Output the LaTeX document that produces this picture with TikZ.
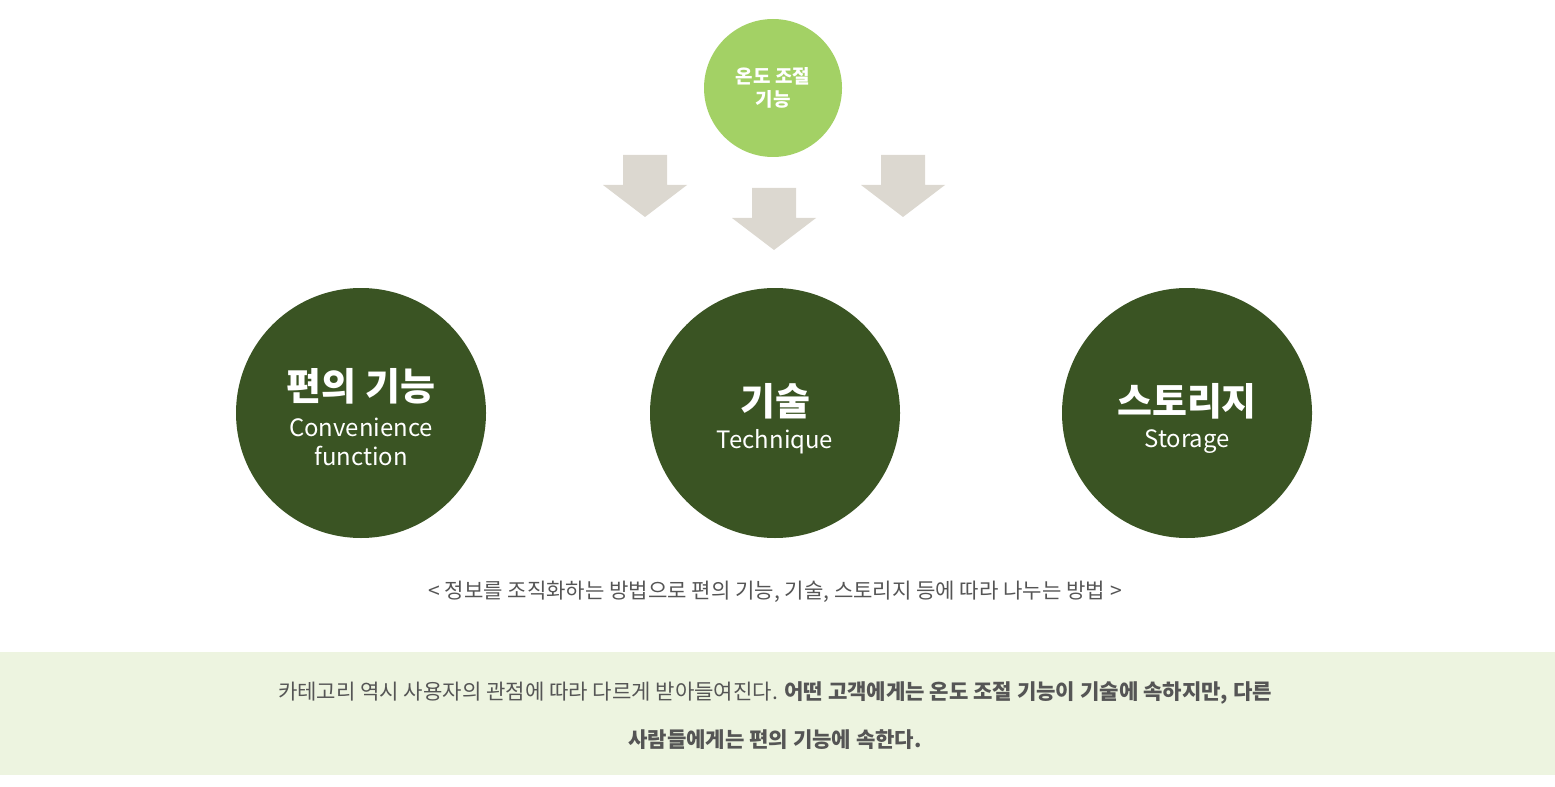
\documentclass[tikz,border=0pt]{standalone}
\usepackage{fontspec}
\setmainfont{Noto Sans CJK KR}
\usepackage{tikz}

\definecolor{darkgreen}{HTML}{3A5423}
\definecolor{lightgreen}{HTML}{A3D165}
\definecolor{arrowgrey}{HTML}{DCD8D0}
\definecolor{bandgreen}{HTML}{EDF4E0}
\definecolor{textgrey}{HTML}{555555}

\tikzset{
  bigcircle/.style={circle, fill=darkgreen, minimum size=250*0.025cm, inner sep=0pt, text=white, align=center},
  fatarrow/.pic={
    \fill[arrowgrey] (-22,-62) -- (22,-62) -- (22,-32) -- (42,-32) -- (0,0) -- (-42,-32) -- (-22,-32) -- cycle;
  }
}

\begin{document}
\begin{tikzpicture}[x=0.025cm, y=-0.025cm]
        % page and band
        \useasboundingbox (0,0) rectangle (1555,787);
        \fill[bandgreen] (0,652) rectangle (1555,775);

        % the top circle
        \node[circle, fill=lightgreen, minimum size=138*0.025cm, inner sep=0pt, text=white, align=center,
              font=\fontsize{13.5}{16}\selectfont\bfseries] (temp) at (773,88) {온도 조절\\기능};

        % the arrows
        \pic at (645,217) {fatarrow};
        \pic at (774,250) {fatarrow};
        \pic at (903,217) {fatarrow};

        % the three categories
        \node[bigcircle] (conv) at (361,413) {};
        \node[bigcircle] (tech) at (775,413) {};
        \node[bigcircle] (stor) at (1187,413) {};

        \node[text=white, font=\fontsize{27}{30}\selectfont\bfseries] (convk) at (361,386) {편의 기능};
        \node[text=white, align=center, font=\fontsize{17}{21}\selectfont] (conve) at (361,442) {Convenience\\function};
        \node[text=white, font=\fontsize{27}{30}\selectfont\bfseries] (techk) at (775,401) {기술};
        \node[text=white, font=\fontsize{17}{21}\selectfont] (teche) at (775,442) {Technique};
        \node[text=white, font=\fontsize{27}{30}\selectfont\bfseries] (stork) at (1187,401) {스토리지};
        \node[text=white, font=\fontsize{17}{21}\selectfont] (store) at (1187,442) {Storage};

        % the texts
        \node[text=textgrey, font=\fontsize{15}{18}\selectfont] (caption) at (775,592)
          {< 정보를 조직화하는 방법으로 편의 기능, 기술, 스토리지 등에 따라 나누는 방법 >};
        \node[text=textgrey, font=\fontsize{15}{18}\selectfont] (line1) at (775,693)
          {카테고리 역시 사용자의 관점에 따라 다르게 받아들여진다. \textbf{어떤 고객에게는 온도 조절 기능이 기술에 속하지만, 다른}};
        \node[text=textgrey, font=\fontsize{15}{18}\selectfont\bfseries] (line2) at (775,740)
          {사람들에게는 편의 기능에 속한다.};
\end{tikzpicture}
\end{document}
